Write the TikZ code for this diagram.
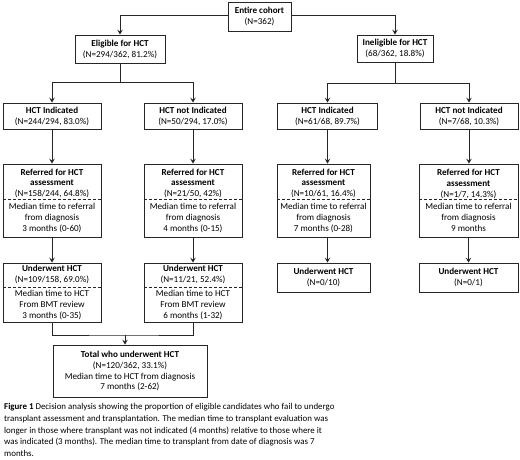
\documentclass[tikz,border=0pt]{standalone}
\usepackage{fontspec}
\setmainfont{Carlito}
\usetikzlibrary{arrows.meta}
\begin{document}
\begin{tikzpicture}[x=1pt,y=-1pt,
  box/.style={draw=black!85,line width=0.8pt,inner sep=0pt,align=center,
    font=\fontsize{9.1}{10.9}\selectfont},
  conn/.style={draw=black!85,line width=0.8pt},
  arr/.style={conn,-{Stealth[length=5pt,width=5.5pt,inset=2pt]}},
  divider/.style={draw=black!85,line width=0.5pt,densely dashed}]
\useasboundingbox (0,0) rectangle (520,459);

% row 0
\node[box,minimum width=63pt,minimum height=29pt] (top) at (259.5,16.5)
  {\textbf{Entire cohort}\\(N=362)};
% row 1
\node[box,minimum width=90pt,minimum height=28pt] (elig) at (120,49)
  {\textbf{Eligible for HCT}\\(N=294/362, 81.2\%)};
\node[box,minimum width=76pt,minimum height=27pt] (inel) at (395,48.5)
  {\textbf{Ineligible for HCT}\\(68/362, 18.8\%)};
% row 2
\node[box,minimum width=98pt,minimum height=26pt] (ind1) at (52,116)
  {\textbf{HCT Indicated}\\(N=244/294, 83.0\%)};
\node[box,minimum width=98pt,minimum height=26pt] (nind1) at (193,116)
  {\textbf{HCT not Indicated}\\(N=50/294, 17.0\%)};
\node[box,minimum width=100pt,minimum height=26pt] (ind2) at (327.5,116)
  {\textbf{HCT Indicated}\\(N=61/68, 89.7\%)};
\node[box,minimum width=98pt,minimum height=26pt] (nind2) at (469,116)
  {\textbf{HCT not Indicated}\\(N=7/68, 10.3\%)};
% row 3
\node[box,minimum width=98pt,minimum height=73pt] (ref1) at (52,200.5)
  {\textbf{Referred for HCT}\\\textbf{assessment}\\(N=158/244, 64.8\%)\\[1.5pt]Median time to referral\\from diagnosis\\3 months (0-60)};
\node[box,minimum width=98pt,minimum height=73pt] (ref2) at (193,200.5)
  {\textbf{Referred for HCT}\\\textbf{assessment}\\(N=21/50, 42\%)\\[1.5pt]Median time to referral\\from diagnosis\\4 months (0-15)};
\node[box,minimum width=93pt,minimum height=73pt] (ref3) at (323.5,200.5)
  {\textbf{Referred for HCT}\\\textbf{assessment}\\(N=10/61, 16.4\%)\\[1.5pt]Median time to referral\\from diagnosis\\7 months (0-28)};
\node[box,minimum width=99pt,minimum height=73pt] (ref4) at (468.5,200.5)
  {\textbf{Referred for HCT}\\\textbf{assessment}\\(N=1/7, 14.3\%)\\[1.5pt]Median time to referral\\from diagnosis\\9 months};
\draw[divider] (ref1.west |- 0,199.5) -- (ref1.east |- 0,199.5);
\draw[divider] (ref2.west |- 0,199.5) -- (ref2.east |- 0,199.5);
\draw[divider] (ref3.west |- 0,199.5) -- (ref3.east |- 0,199.5);
\draw[divider] (ref4.west |- 0,199.5) -- (ref4.east |- 0,199.5);
% row 4
\node[box,minimum width=98pt,minimum height=59pt] (und1) at (52,292.5)
  {\textbf{Underwent HCT}\\(N=109/158, 69.0\%)\\[3pt]Median time to HCT\\From BMT review\\3 months (0-35)};
\node[box,minimum width=98pt,minimum height=59pt] (und2) at (193,292.5)
  {\textbf{Underwent HCT}\\(N=11/21, 52.4\%)\\[3pt]Median time to HCT\\From BMT review\\6 months (1-32)};
\node[box,minimum width=93pt,minimum height=29pt] (und3) at (323.5,277.5)
  {\textbf{Underwent HCT}\\(N=0/10)};
\node[box,minimum width=99pt,minimum height=29pt] (und4) at (468.5,277.5)
  {\textbf{Underwent HCT}\\(N=0/1)};
\draw[divider] (und1.west |- 0,287.3) -- (und1.east |- 0,287.3);
\draw[divider] (und2.west |- 0,287.3) -- (und2.east |- 0,287.3);
% total
\node[box,minimum width=154pt,minimum height=52pt] (total) at (130,371)
  {\textbf{Total who underwent HCT}\\(N=120/362, 33.1\%)\\Median time to HCT from diagnosis\\7 months (2-62)};

% connectors
\draw[arr] (top.west |- 0,15) -| (elig.north);
\draw[arr] (top.east |- 0,15) -| (inel.north);
\coordinate (s1) at (120,82);
\coordinate (s2) at (395,83);
\draw[conn] (elig.south) -- (s1);
\draw[arr] (s1) -| (ind1.north);
\draw[arr] (s1) -| (nind1.north);
\draw[conn] (inel.south) -- (s2);
\draw[arr] (s2) -| (ind2.north);
\draw[arr] (s2) -| (nind2.north);
\draw[arr] (ind1.south) -- (ind1.south |- ref1.north);
\draw[arr] (nind1.south) -- (nind1.south |- ref2.north);
\draw[arr] (ind2.south) -- (ind2.south |- ref3.north);
\draw[arr] (nind2.south) -- (nind2.south |- ref4.north);
\draw[arr] (ref1.south) -- (ref1.south |- und1.north);
\draw[arr] (ref2.south) -- (ref2.south |- und2.north);
\draw[arr] (ind2.south |- ref3.south) -- (ind2.south |- und3.north);
\draw[arr] (ref4.south) -- (ref4.south |- und4.north);
\coordinate (j) at (125,335);
\draw[conn] (und1.south) |- (j) -| (und2.south);
\draw[arr] (j) -- (j |- total.north);

% caption
\node[anchor=north west,inner sep=0pt,align=left,
  font=\fontsize{8.9}{11.7}\selectfont] (cap) at (4,403.2)
  {\textbf{Figure 1} Decision analysis showing the proportion of eligible candidates who fail to undergo\\
   transplant assessment and transplantation. The median time to transplant evaluation was\\
   longer in those where transplant was not indicated (4 months) relative to those where it\\
   was indicated (3 months). The median time to transplant from date of diagnosis was 7\\
   months.};
\end{tikzpicture}
\end{document}
